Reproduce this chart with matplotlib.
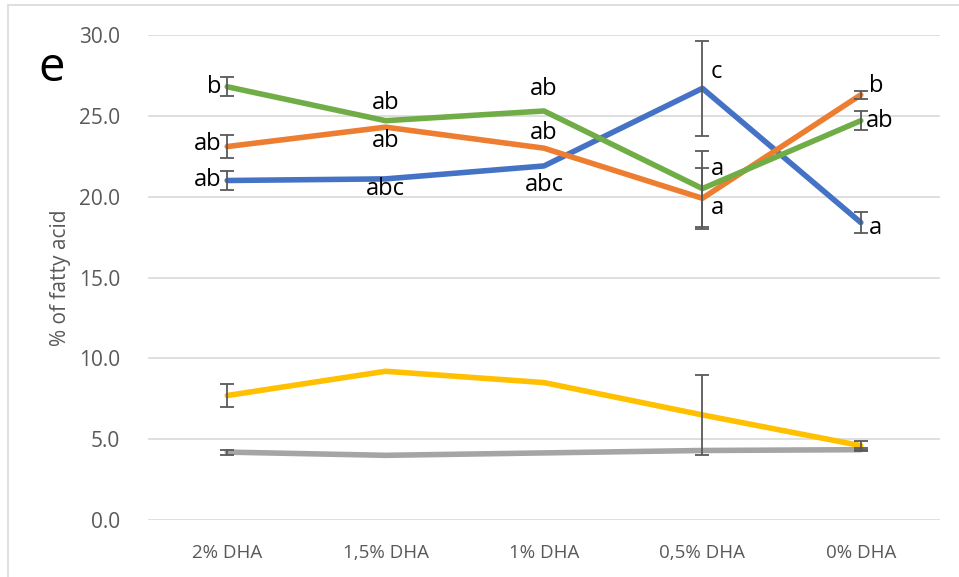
import numpy as np
import matplotlib.pyplot as plt
from matplotlib.patches import Rectangle

# treatments on the x axis
categories = ["2% DHA", "1,5% DHA", "1% DHA", "0,5% DHA", "0% DHA"]

# series values (% of fatty acid) and their error bars
blue_vals = [21.0, 21.1, 21.9, 26.7, 18.4]
blue_err = [0.6, 0.0, 0.0, 2.95, 0.65]
orange_vals = [23.1, 24.3, 23.0, 19.9, 26.3]
orange_err = [0.7, 0.0, 0.0, 1.9, 0.25]
green_vals = [26.8, 24.7, 25.3, 20.5, 24.7]
green_err = [0.6, 0.0, 0.0, 2.35, 0.6]
yellow_vals = [7.7, 9.2, 8.5, 6.5, 4.6]
yellow_err = [0.7, 0.0, 0.0, 2.5, 0.3]
gray_vals = [4.2, 4.0, 4.15, 4.3, 4.35]
gray_err = [0.15, 0.0, 0.0, 0.0, 0.1]

# letter labels per point
blue_letters = ["ab", "abc", "abc", "c", "a"]
orange_letters = ["ab", "ab", "ab", "a", "b"]
green_letters = ["b", "ab", "ab", "a", "ab"]

yticks = [0, 5, 10, 15, 20, 25, 30]

plt.rcParams['font.family'] = ['Open Sans', 'DejaVu Sans']

fig = plt.figure(figsize=(9.59, 5.77), dpi=100)
ax = fig.add_axes([148 / 959, 57 / 577, 792 / 959, 485 / 577])

x = np.arange(len(categories))

series = [
    (gray_vals, gray_err, "#a5a5a5"),
    (yellow_vals, yellow_err, "#ffc000"),
    (blue_vals, blue_err, "#4472c4"),
    (orange_vals, orange_err, "#ed7d31"),
    (green_vals, green_err, "#70ad47"),
]
for vals, err, col in series:
    ax.plot(x, vals, color=col, linewidth=4, solid_capstyle='round', zorder=3)
    vals = np.array(vals)
    err = np.array(err)
    keep = err > 0
    ax.errorbar(x[keep], vals[keep], yerr=err[keep], fmt='none', ecolor="#595959",
                elinewidth=1.3, capsize=5, capthick=1.3, zorder=4)

ax.set_xlim(-0.5, 4.5)
ax.set_ylim(0, 30)
ax.set_yticks(yticks)
ax.set_yticklabels([f"{v:.1f}" for v in yticks], fontsize=15, color="#595959")
ax.set_xticks(x)
ax.set_xticklabels(categories, fontsize=13.5, color="#595959")
ax.tick_params(axis='both', length=0)
ax.tick_params(axis='x', pad=17)
ax.tick_params(axis='y', pad=20)
ax.grid(axis='y', color="#d9d9d9", linewidth=1.2)
ax.set_axisbelow(True)
for s in ax.spines.values():
    s.set_visible(False)
ax.set_ylabel("% of fatty acid", fontsize=15, color="#595959", labelpad=6)

# letter annotations: (dx in points, dy in points, ha)
lab_kw = dict(fontsize=17, color="black", textcoords='offset points', va='center')
offsets_blue = [(-4, 0, 'right'), (0, -7, 'center'), (0, -14, 'center'), (6, 12, 'left'), (6, -4, 'left')]
offsets_orange = [(-4, 2, 'right'), (0, -10, 'center'), (0, 11, 'center'), (6, -7, 'left'), (6, 6, 'left')]
offsets_green = [(-4, 0, 'right'), (0, 13, 'center'), (0, 16, 'center'), (6, 14, 'left'), (4, 0, 'left')]
for vals, letters, offs in [(blue_vals, blue_letters, offsets_blue),
                            (orange_vals, orange_letters, offsets_orange),
                            (green_vals, green_letters, offsets_green)]:
    for i, (v, t) in enumerate(zip(vals, letters)):
        dx, dy, ha = offs[i]
        ax.annotate(t, (x[i], v), xytext=(dx, dy), ha=ha, **lab_kw)

fig.text(52 / 959, 1 - 68 / 577, "e", fontsize=34, ha='center', va='center')

fig.patches.append(Rectangle((8 / 959, -0.1), 1.2, (577 - 5) / 577 + 0.1,
                             transform=fig.transFigure, fill=False,
                             edgecolor="#d9d9d9", linewidth=1.2))

fig.savefig("out.png", dpi=100)
